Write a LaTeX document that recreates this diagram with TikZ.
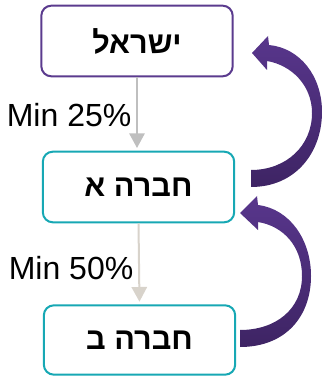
\documentclass[tikz,border=0pt]{standalone}
\usepackage{fontspec}
\setmainfont{Liberation Sans}
\newfontfamily\hebfont[Script=Hebrew]{Liberation Sans}
\TeXXeTstate=1
\usepackage{tikz}
\usetikzlibrary{arrows.meta, positioning}

\definecolor{purpleline}{RGB}{91,59,142}
\definecolor{tealline}{RGB}{23,168,180}
\definecolor{greyarrow}{RGB}{191,191,191}
\definecolor{sandarrow}{RGB}{216,211,203}
\definecolor{loopTop}{RGB}{88,54,140}
\definecolor{loopBottom}{RGB}{62,36,100}

\begin{document}
\begin{tikzpicture}[
		x=0.75pt, y=-0.75pt,
		entity/.style={rectangle, rounded corners=7.5pt, draw, line width=1.5pt, fill=white,
			minimum width=143.5pt, minimum height=53pt, font=\hebfont\bfseries\fontsize{23}{27}\selectfont},
		link/.style={line width=1.5pt, -{Triangle[width=11.5pt, length=11pt]}},
		share/.style={font=\fontsize{24}{28}\selectfont, inner sep=3.5pt},
		loop/.style={top color=loopTop, bottom color=loopBottom, draw=none}
		]
		\useasboundingbox (0,0) rectangle (323,377);
		
		% Les entites
		\node[entity, draw=purpleline] (isr) at (137, 41) {\beginR ישראל\endR};
		\node[entity, draw=tealline] (hevA) at (138.5, 187) {\beginR חברה א\endR};
		\node[entity, draw=tealline, minimum height=52pt] (hevB) at (139.5, 340) {\beginR חברה ב\endR};
		
		% Les participations
		\draw[link, greyarrow, shorten >=2pt] (isr.south) to node[midway, left, share, text=black, yshift=-1pt] {Min 25\%} (isr.south |- hevA.north);
		\draw[link, sandarrow, shorten >=2pt] (hevA.south) to node[midway, left, share, text=black, yshift=-3pt] {Min 50\%} (hevB.north);
		
		% Les fleches de retour
		\shade[loop] (251,187) .. controls (296,187) and (322,152) .. (322,112)
			.. controls (322,76) and (300,48) .. (269,45) -- (268,36) -- (252,53) -- (267,70) -- (267,61)
			.. controls (291,65) and (312,85) .. (312,113)
			.. controls (312,146) and (286,170) .. (251,170) -- cycle;
		\shade[loop] (240,347) .. controls (286,347) and (311,316) .. (311,276)
			.. controls (311,240) and (290,209) .. (258,205) -- (257,196) -- (240,213) -- (258,230) -- (258,222)
			.. controls (283,226) and (302,246) .. (302,276)
			.. controls (302,309) and (276,330) .. (240,330) -- cycle;
	\end{tikzpicture}
\end{document}
